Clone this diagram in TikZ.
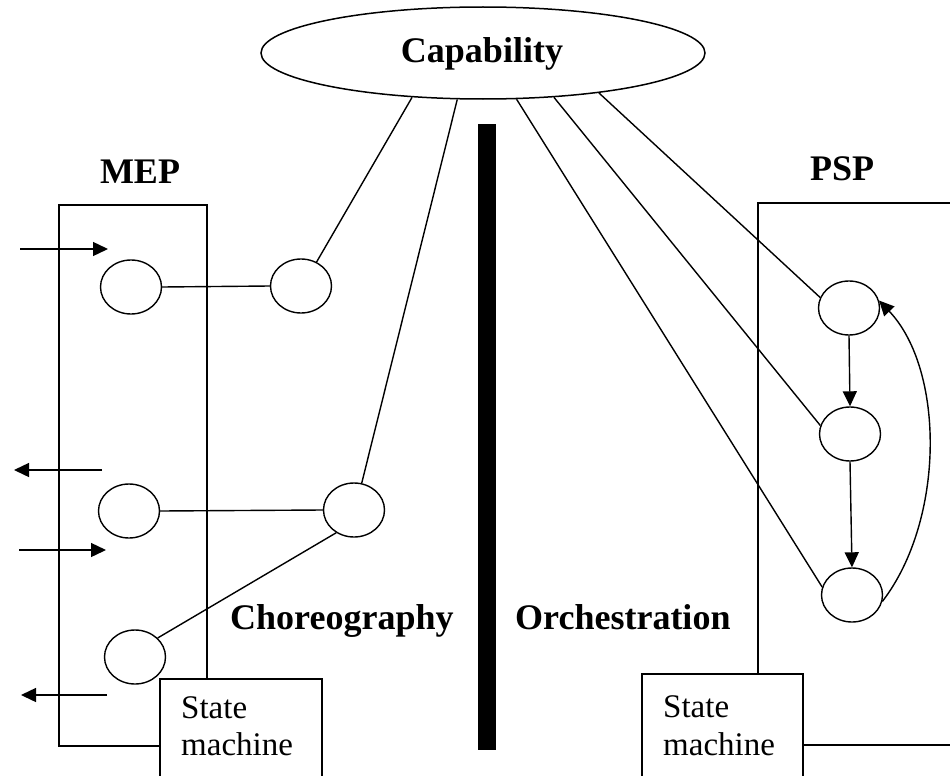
\documentclass[tikz,border=0pt]{standalone}
\usepackage{fontspec}
\setmainfont{Liberation Serif}
\usetikzlibrary{shapes.geometric,arrows.meta}
\begin{document}
\begin{tikzpicture}[x=1pt,y=-1pt,
  ln/.style={line width=1.4pt},
  box/.style={draw, line width=1.7pt, inner sep=0pt},
  st/.style={draw, ellipse, line width=1.4pt, minimum width=61pt, minimum height=54pt, inner sep=0pt},
  arr/.style={line width=1.4pt, -{Triangle[length=15pt,width=14pt]}},
  lbl/.style={font=\fontsize{36}{40}\selectfont\bfseries, inner sep=0pt},
  smt/.style={font=\fontsize{33}{38}\selectfont, inner sep=0pt, anchor=base west}
]
\useasboundingbox (0,0) rectangle (950,776);
\clip (0,0) rectangle (950,776);

% capability
\node[draw, ellipse, line width=1.5pt, minimum width=444pt, minimum height=92pt, inner sep=0pt] (cap) at (483,53) {};
\node[lbl, anchor=base] (captxt) at (482,63) {Capability};

% central bar
\node[fill=black, inner sep=0pt, minimum width=18pt, minimum height=626pt] (bar) at (487,437) {};

% MEP
\node[box, minimum width=148pt, minimum height=541pt] (mep) at (133,475.5) {};
\node[lbl, anchor=base] (meptxt) at (140,183) {MEP};

% PSP
\node[box, minimum width=242pt, minimum height=542pt] (psp) at (879,474) {};
\node[lbl, anchor=base] (psptxt) at (842,180) {PSP};

% MEP states
\node[st] (c1) at (131,287) {};
\node[st] (c2) at (129,511) {};
\node[st] (c3) at (135,657) {};
\node[st] (A) at (301,286) {};
\node[st] (B) at (354,510) {};

% PSP states
\node[st] (P1) at (849,308) {};
\node[st] (P2) at (850,434) {};
\node[st] (P3) at (852,595) {};

% connectors
\draw[ln] (c1.east) -- (A.west);
\draw[ln] (c2.east) -- (B.west);
\draw[ln] (c3.40) -- (B.232);
\draw[ln] (A.57) -- (cap.212.8);
\draw[ln] (B.74) -- (cap.241.3);
\draw[ln] (cap.306.8) -- (P3.165);
\draw[ln] (cap.328) -- (P2.164);
\draw[ln] (cap.341.9) -- (P1.160);

\draw[arr] (P1.south) -- (P2.north);
\draw[arr] (P2.south) -- (P3.north);
\draw[arr] (P3.-12) .. controls (945,520) and (945,370) .. (P1.14);

% external arrows
\coordinate (a1s) at (20,249);  \coordinate (a1e) at (108,249);
\coordinate (a2s) at (102,470); \coordinate (a2e) at (14,470);
\coordinate (a3s) at (19,550);  \coordinate (a3e) at (106,550);
\coordinate (a4s) at (107,695); \coordinate (a4e) at (21,695);
\draw[arr] (a1s) -- (a1e);
\draw[arr] (a2s) -- (a2e);
\draw[arr] (a3s) -- (a3e);
\draw[arr] (a4s) -- (a4e);

% state machine boxes
\node[box, fill=white, anchor=north west, minimum width=162pt, minimum height=120pt] (smL) at (159,678) {};
\node[smt] (smL1) at (181,718) {State};
\node[smt] (smL2) at (181,755) {machine};
\node[box, fill=white, anchor=north west, minimum width=161pt, minimum height=120pt] (smR) at (641,673) {};
\node[smt] (smR1) at (663,717) {State};
\node[smt] (smR2) at (663,755) {machine};

% section labels
\node[lbl, anchor=base west] (chor) at (230,629) {Choreography};
\node[lbl, anchor=base west] (orch) at (515,629) {Orchestration};
\end{tikzpicture}
\end{document}
